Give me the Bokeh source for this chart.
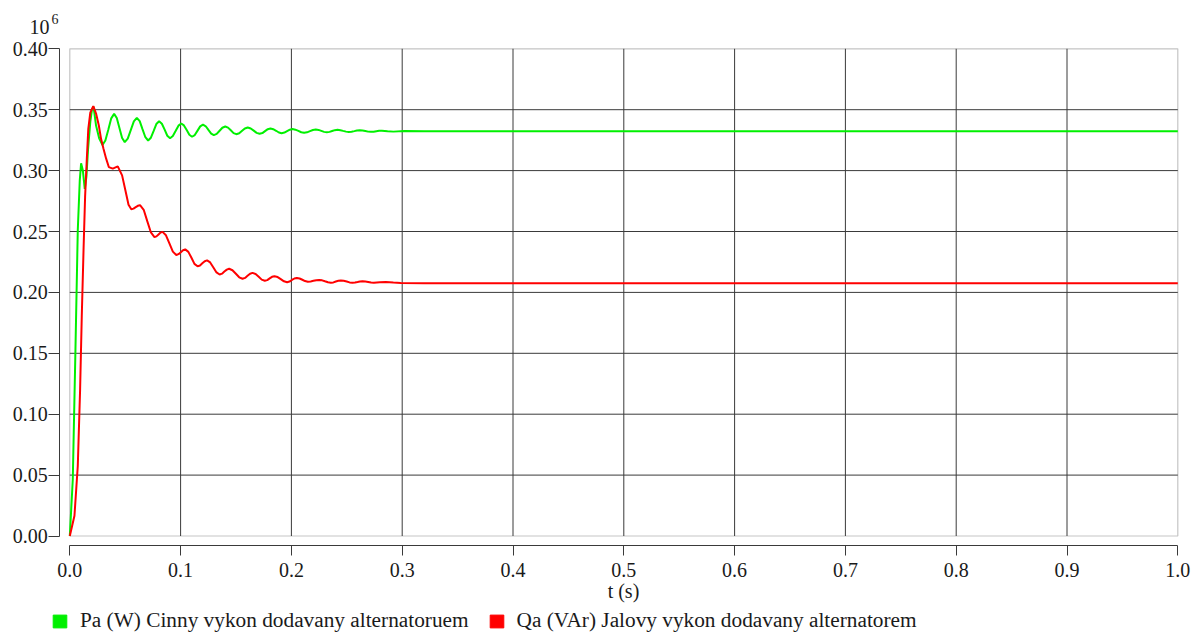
from bokeh.plotting import figure
from bokeh.models import (Range1d, FixedTicker, NumeralTickFormatter, BoxAnnotation,
                          Label, Legend, LegendItem, ColumnDataSource)
from bokeh.embed import file_html
from bokeh.resources import INLINE

# ---- data (values in 10^6) ----
pa_t = [0.0, 0.0027, 0.0051, 0.0072, 0.0090, 0.0102, 0.0118, 0.0135, 0.0150, 0.0165, 0.0185, 0.0200,
        0.0214, 0.0237, 0.0265, 0.0295,
        0.0321, 0.0348, 0.0374, 0.0400, 0.0424, 0.0448, 0.0472, 0.0496,
        0.0523, 0.0551, 0.0578, 0.0605, 0.0631, 0.0656, 0.0682, 0.0707,
        0.0732, 0.0757, 0.0781, 0.0806, 0.0831, 0.0856, 0.0880, 0.0905,
        0.0930, 0.0956, 0.0981, 0.1006, 0.1030, 0.1055, 0.1079, 0.1103,
        0.1128, 0.1153, 0.1177, 0.1202, 0.1227, 0.1251, 0.1276, 0.1300,
        0.1326, 0.1352, 0.1377, 0.1403, 0.1428, 0.1453, 0.1478, 0.1503,
        0.1529, 0.1555, 0.1580, 0.1606, 0.1633, 0.1660, 0.1686, 0.1713,
        0.1738, 0.1762, 0.1787, 0.1811, 0.1836, 0.1862, 0.1887, 0.1912,
        0.1937, 0.1961, 0.1986, 0.2010, 0.2036, 0.2063, 0.2089, 0.2115,
        0.2141, 0.2168, 0.2194, 0.2220, 0.2245, 0.2270, 0.2295, 0.2320,
        0.2344, 0.2368, 0.2392, 0.2416, 0.2442, 0.2467, 0.2493, 0.2518,
        0.2543, 0.2568, 0.2592, 0.2617, 0.2642, 0.2667, 0.2692, 0.2717,
        0.2742, 0.2767, 0.2792, 0.2817, 0.2868, 0.2920, 0.3020, 0.3200, 1.0]
pa_v = [0.0, 0.0466, 0.153, 0.251, 0.292, 0.306, 0.300, 0.285, 0.295, 0.318, 0.340, 0.350,
        0.3526, 0.337, 0.3265, 0.321,
        0.3247, 0.3338, 0.3429, 0.3466, 0.3432, 0.3350, 0.3268, 0.3234,
        0.3263, 0.3334, 0.3404, 0.3433, 0.3406, 0.3340, 0.3274, 0.3247,
        0.3270, 0.3326, 0.3382, 0.3405, 0.3385, 0.3336, 0.3286, 0.3266,
        0.3284, 0.3327, 0.3369, 0.3387, 0.3371, 0.3333, 0.3294, 0.3278,
        0.3292, 0.3328, 0.3363, 0.3377, 0.3364, 0.3334, 0.3304, 0.3291,
        0.3301, 0.3327, 0.3352, 0.3362, 0.3353, 0.3331, 0.3308, 0.3299,
        0.3307, 0.3327, 0.3346, 0.3354, 0.3346, 0.3328, 0.3310, 0.3302,
        0.3308, 0.3324, 0.3340, 0.3346, 0.3340, 0.3327, 0.3313, 0.3307,
        0.3312, 0.3324, 0.3336, 0.3341, 0.3336, 0.3326, 0.3315, 0.3310,
        0.3314, 0.3324, 0.3333, 0.3337, 0.3334, 0.3326, 0.3318, 0.3315,
        0.3318, 0.3325, 0.3332, 0.3335, 0.3332, 0.3326, 0.3320, 0.3317,
        0.3319, 0.3324, 0.3329, 0.3331, 0.3329, 0.3325, 0.3320, 0.3318,
        0.3319, 0.3323, 0.3327, 0.3328, 0.3324, 0.3320, 0.3325, 0.3323, 0.3323]

qa_t = [0.0, 0.0042, 0.0072, 0.0093, 0.0108, 0.0124, 0.0138, 0.0153, 0.0167, 0.0185, 0.0212,
        0.0237, 0.0262, 0.0282, 0.0304, 0.0328, 0.0352, 0.0388, 0.0433, 0.0472, 0.0505, 0.0530,
        0.0555, 0.0575, 0.0595, 0.0614, 0.0634, 0.0667, 0.0699, 0.0732,
        0.0764, 0.0782, 0.0801, 0.0819, 0.0837, 0.0868, 0.0899, 0.0930,
        0.0961, 0.0981, 0.1002, 0.1022, 0.1042, 0.1070, 0.1098, 0.1125,
        0.1153, 0.1175, 0.1196, 0.1218, 0.1239, 0.1267, 0.1296, 0.1324,
        0.1352, 0.1374, 0.1395, 0.1417, 0.1438, 0.1468, 0.1499, 0.1529,
        0.1559, 0.1582, 0.1604, 0.1627, 0.1649, 0.1677, 0.1705, 0.1732,
        0.1760, 0.1782, 0.1804, 0.1825, 0.1847, 0.1876, 0.1904, 0.1933,
        0.1961, 0.1983, 0.2005, 0.2027, 0.2049, 0.2074, 0.2099, 0.2123,
        0.2148, 0.2174, 0.2199, 0.2225, 0.2250, 0.2277, 0.2303, 0.2330,
        0.2356, 0.2379, 0.2401, 0.2424, 0.2446, 0.2472, 0.2499, 0.2525,
        0.2551, 0.2574, 0.2597, 0.2619, 0.2642, 0.2668, 0.2693, 0.2719,
        0.2744, 0.2798, 0.2852, 0.2920, 0.2987, 0.3200, 1.0]
qa_v = [0.0, 0.0166, 0.0575, 0.1202, 0.1802, 0.2348, 0.2784, 0.3084, 0.3343, 0.3476, 0.3530,
        0.3468, 0.3370, 0.3261, 0.3180, 0.3098, 0.3029, 0.3016, 0.3035, 0.2961, 0.2825, 0.2720,
        0.2683, 0.2688, 0.2700, 0.2711, 0.2716, 0.2678, 0.2585, 0.2492,
        0.2454, 0.2460, 0.2476, 0.2491, 0.2497, 0.2469, 0.2402, 0.2335,
        0.2307, 0.2314, 0.2330, 0.2346, 0.2353, 0.2333, 0.2284, 0.2234,
        0.2214, 0.2221, 0.2239, 0.2256, 0.2263, 0.2246, 0.2205, 0.2164,
        0.2147, 0.2154, 0.2171, 0.2187, 0.2194, 0.2182, 0.2153, 0.2124,
        0.2112, 0.2119, 0.2136, 0.2153, 0.2160, 0.2151, 0.2128, 0.2105,
        0.2096, 0.2101, 0.2115, 0.2128, 0.2133, 0.2126, 0.2109, 0.2091,
        0.2084, 0.2089, 0.2102, 0.2114, 0.2119, 0.2114, 0.2104, 0.2093,
        0.2088, 0.2090, 0.2095, 0.2100, 0.2102, 0.2099, 0.2091, 0.2083,
        0.2080, 0.2082, 0.2089, 0.2095, 0.2097, 0.2095, 0.2089, 0.2082,
        0.2080, 0.2082, 0.2086, 0.2090, 0.2092, 0.2090, 0.2086, 0.2081,
        0.2079, 0.2083, 0.2086, 0.2081, 0.2078, 0.2076, 0.2075]

x_ticks = [0.0, 0.1, 0.2, 0.3, 0.4, 0.5, 0.6, 0.7, 0.8, 0.9, 1.0]
y_ticks = [0.0, 0.05, 0.10, 0.15, 0.20, 0.25, 0.30, 0.35, 0.40]
x_lim = (0.0, 1.0)
y_lim = (0.0, 0.40)

pa_label = "Pa (W) Cinny vykon dodavany alternatoruem"
qa_label = "Qa (VAr) Jalovy vykon dodavany alternatorem"
x_title = "t (s)"
mult_base = "10"
mult_exp = "6"

FONT = "Liberation Serif"
TXT = "#1a1a1a"
GRID = "#3a3a3a"
GREEN = "#00f000"
RED = "#ff0000"

W, H = 1192, 634
# plotting box in page pixels: x 69.3..1177.3, y(0.40)=48.3 .. y(0)=535.5
px_per_x = 1108.0
px_per_y = 1218.0
x_start = -69.3 / px_per_x
x_end = 1.0 + (W - 1177.3) / px_per_x
y_start = -(H - 535.5) / px_per_y
y_end = 0.4 + 48.3 / px_per_y

p = figure(width=W, height=H, output_backend="svg", toolbar_location=None,
           title_location=None,
           x_range=Range1d(x_start, x_end), y_range=Range1d(y_start, y_end),
           min_border_left=0, min_border_right=0, min_border_top=0, min_border_bottom=0)
p.outline_line_color = None
p.xgrid.visible = False
p.ygrid.visible = False

# grid lines inside the plotting box
gx = x_ticks[1:-1]
gy = y_ticks[1:-1]
p.segment(x0=gx, y0=[y_lim[0]] * len(gx), x1=gx, y1=[y_lim[1]] * len(gx),
          line_color=GRID, line_width=1)
p.segment(x0=[x_lim[0]] * len(gy), y0=gy, x1=[x_lim[1]] * len(gy), y1=gy,
          line_color=GRID, line_width=1)

p.add_layout(BoxAnnotation(left=x_lim[0], right=x_lim[1], bottom=y_lim[0], top=y_lim[1],
                           fill_alpha=0, line_color=GRID, line_width=1.2, level="underlay"))

p.line(pa_t, pa_v, line_color=GREEN, line_width=2)
p.line(qa_t, qa_v, line_color=RED, line_width=2)

# axes, detached 10 px from the plotting box
p.xaxis.fixed_location = -(545 - 535.5) / px_per_y
p.yaxis.fixed_location = -(69.3 - 59.3) / px_per_x
for ax in (p.xaxis[0], p.yaxis[0]):
    ax.axis_line_color = GRID
    ax.major_tick_line_color = GRID
    ax.minor_tick_line_color = None
    ax.major_tick_in = 0
    ax.major_label_text_font = FONT
    ax.major_label_text_font_size = "20px"
    ax.major_label_text_color = TXT

p.xaxis.bounds = x_lim
p.yaxis.bounds = y_lim
p.xaxis.ticker = FixedTicker(ticks=x_ticks)
p.yaxis.ticker = FixedTicker(ticks=y_ticks)
p.xaxis.formatter = NumeralTickFormatter(format="0.0")
p.yaxis.formatter = NumeralTickFormatter(format="0.00")
p.xaxis.major_tick_out = 10
p.yaxis.major_tick_out = 11
p.xaxis.major_label_standoff = 7
p.yaxis.major_label_standoff = 1
p.xaxis.axis_label = x_title
p.xaxis.axis_label_text_font = FONT
p.xaxis.axis_label_text_font_size = "20px"
p.xaxis.axis_label_text_font_style = "normal"
p.xaxis.axis_label_text_color = TXT
p.xaxis.axis_label_standoff = 0

# 10^6 multiplier
p.add_layout(Label(x=49, y=H - 26, x_units="screen", y_units="screen", text=mult_base,
                   text_font=FONT, text_font_size="20px", text_color=TXT,
                   text_align="right", text_baseline="alphabetic"))
p.add_layout(Label(x=51, y=H - 18, x_units="screen", y_units="screen", text=mult_exp,
                   text_font=FONT, text_font_size="14px", text_color=TXT,
                   text_align="left", text_baseline="alphabetic"))

# legend with square swatches (swatch renderers hold no visible data)
nan = float("nan")
src_swatch = ColumnDataSource(data=dict(l=[nan], r=[nan], t=[nan], b=[nan]))
q_pa = p.quad(left="l", right="r", top="t", bottom="b", source=src_swatch,
              fill_color=GREEN, line_color=GREEN)
q_qa = p.quad(left="l", right="r", top="t", bottom="b", source=src_swatch,
              fill_color=RED, line_color=RED)
legend = Legend(items=[LegendItem(label=pa_label, renderers=[q_pa]),
                       LegendItem(label=qa_label, renderers=[q_qa])],
                orientation="horizontal", location=(51, 1),
                glyph_width=17, glyph_height=16, label_height=16, label_standoff=12,
                spacing=19, padding=0, margin=0, border_line_color=None,
                background_fill_alpha=0, label_text_font=FONT,
                label_text_font_size="21.3px", label_text_color=TXT)
p.add_layout(legend, "center")

open("out.html", "w").write(file_html(p, INLINE))
